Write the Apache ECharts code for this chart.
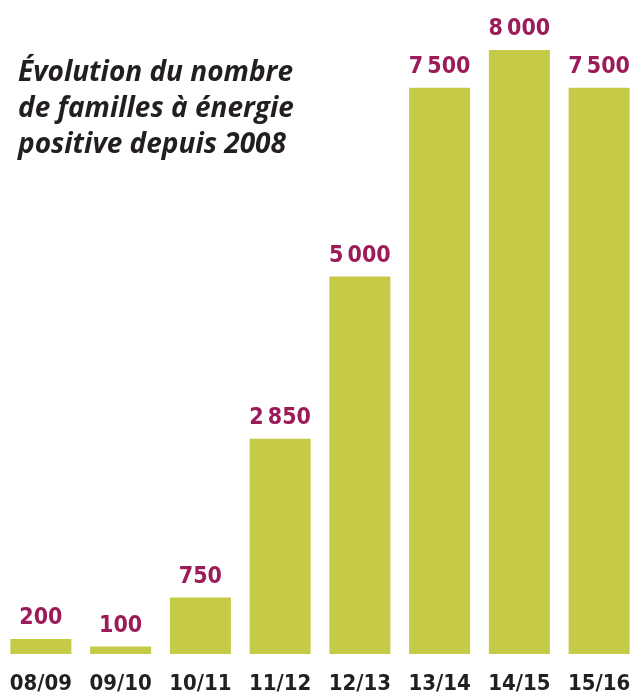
<!DOCTYPE html>
<html>
<head>
<meta charset="utf-8">
<script src="https://cdn.jsdelivr.net/npm/echarts@6/dist/echarts.min.js"></script>
<style>
  html, body { margin: 0; padding: 0; background: #fff; overflow: hidden; }
  #chart { width: 639px; height: 695px; }
</style>
</head>
<body>
<div id="chart"></div>
<script>
// saisons et nombre de familles
var seasons = ['08/09', '09/10', '10/11', '11/12', '12/13', '13/14', '14/15', '15/16'];
var families = [200, 100, 750, 2850, 5000, 7500, 8000, 7500];

var chart = echarts.init(document.getElementById('chart'));

// "7 500" avec espace fine
function fmt(v) {
  return String(v).replace(/\B(?=(\d{3})+(?!\d))/g, '\u2009');
}

chart.setOption({
  animation: false,
  title: {
    text: 'Évolution du nombre\nde familles à énergie\npositive depuis 2008',
    left: 13,
    top: 50,
    textStyle: {
      fontFamily: 'Open Sans',
      fontStyle: 'italic',
      fontWeight: 'bold',
      fontSize: 28,
      lineHeight: 36,
      color: '#231f20'
    }
  },
  grid: {
    left: 1,
    right: 0,
    top: 50,
    bottom: 41
  },
  xAxis: {
    type: 'category',
    data: seasons,
    axisLine: { show: false },
    axisTick: { show: false },
    axisLabel: {
      interval: 0,
      margin: 19,
      fontFamily: 'DejaVu Sans Condensed',
      fontWeight: 'bold',
      fontSize: 22,
      color: '#231f20'
    }
  },
  yAxis: {
    type: 'value',
    min: 0,
    max: 8000,
    show: false,
    splitLine: { show: false }
  },
  series: [{
    type: 'bar',
    data: families,
    barWidth: 61,
    itemStyle: { color: '#c5ca47' },
    label: {
      show: true,
      position: 'top',
      distance: 9,
      formatter: function (p) { return fmt(p.value); },
      fontFamily: 'DejaVu Sans Condensed',
      fontWeight: 'bold',
      fontSize: 23,
      color: '#9c1c59'
    }
  }]
});
</script>
</body>
</html>
